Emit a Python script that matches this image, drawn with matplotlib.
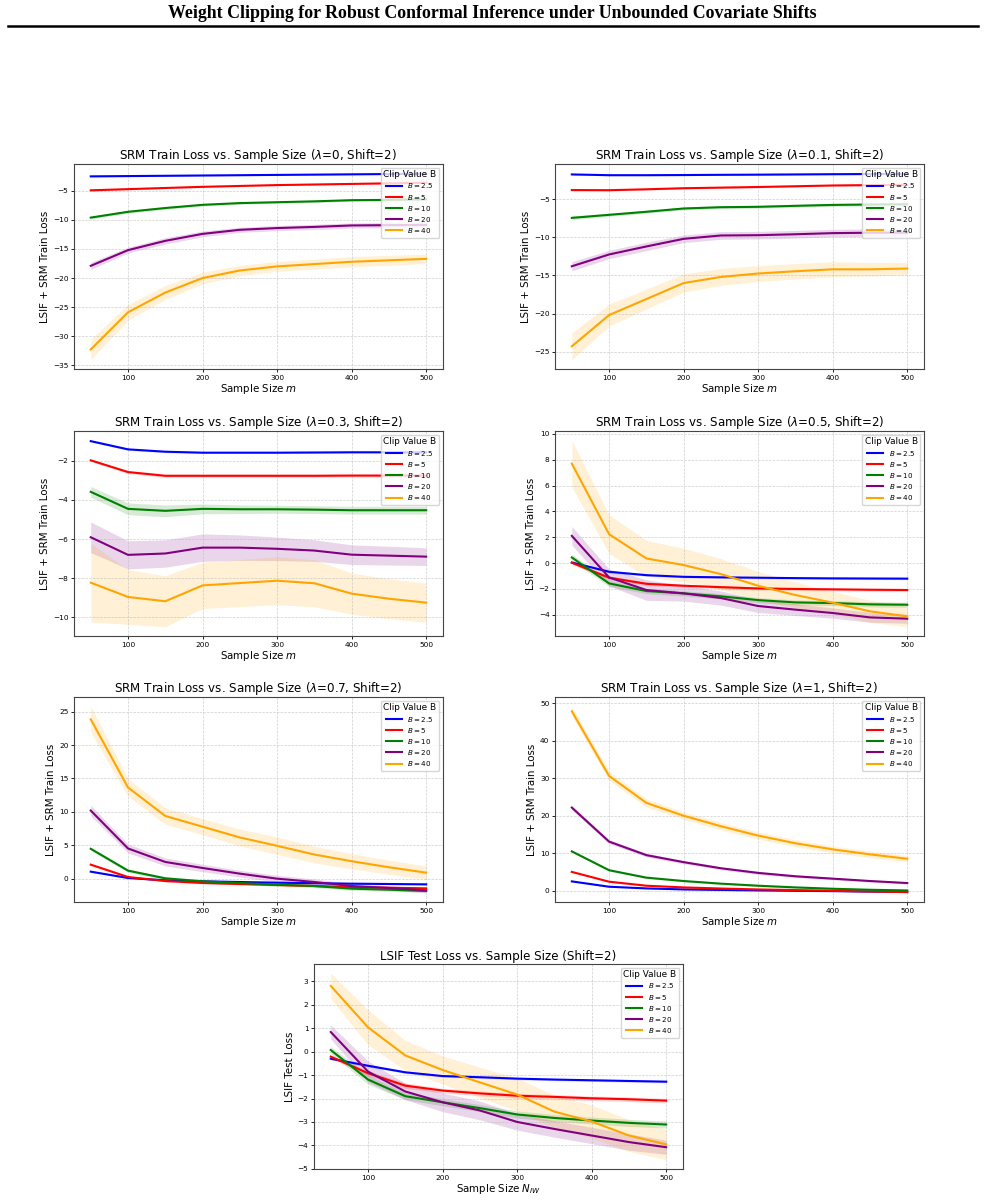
import numpy as np
import matplotlib
matplotlib.use('Agg')
import matplotlib.pyplot as plt
from matplotlib.lines import Line2D

sample_sizes = [50, 100, 150, 200, 250, 300, 350, 400, 450, 500]
clip_labels = ['$B = 2.5$', '$B = 5$', '$B = 10$', '$B = 20$', '$B = 40$']
colors = ['blue', 'red', 'green', 'purple', 'orange']

# mean curves, one row per clip value B
lam0_mean = [
    [-2.5, -2.45, -2.4, -2.35, -2.3, -2.25, -2.2, -2.15, -2.1, -2.05],
    [-4.9, -4.7, -4.5, -4.3, -4.15, -4.0, -3.9, -3.8, -3.7, -3.6],
    [-9.6, -8.6, -7.95, -7.4, -7.1, -6.95, -6.8, -6.6, -6.55, -6.45],
    [-17.9, -15.2, -13.6, -12.4, -11.7, -11.4, -11.2, -10.95, -10.9, -10.85],
    [-32.3, -25.9, -22.5, -20.0, -18.7, -18.0, -17.6, -17.2, -16.95, -16.7]]
lam0_std = [
    [0.12, 0.1, 0.1, 0.08, 0.08, 0.08, 0.08, 0.08, 0.08, 0.08],
    [0.15, 0.12, 0.12, 0.1, 0.1, 0.1, 0.1, 0.1, 0.1, 0.1],
    [0.25, 0.25, 0.25, 0.2, 0.2, 0.2, 0.2, 0.2, 0.2, 0.2],
    [0.6, 0.5, 0.55, 0.5, 0.45, 0.45, 0.45, 0.45, 0.45, 0.45],
    [1.75, 1.35, 1.2, 1.0, 0.9, 0.85, 0.85, 0.9, 0.85, 0.8]]

lam01_mean = [
    [-1.75, -1.85, -1.85, -1.83, -1.8, -1.78, -1.75, -1.72, -1.7, -1.68],
    [-3.8, -3.82, -3.7, -3.56, -3.48, -3.4, -3.3, -3.2, -3.15, -3.12],
    [-7.45, -7.05, -6.65, -6.22, -6.05, -6.0, -5.87, -5.75, -5.7, -5.66],
    [-13.8, -12.25, -11.2, -10.2, -9.76, -9.72, -9.6, -9.45, -9.4, -9.4],
    [-24.3, -20.2, -18.1, -16.0, -15.2, -14.75, -14.45, -14.2, -14.2, -14.1]]
lam01_std = [
    [0.08, 0.08, 0.08, 0.08, 0.08, 0.08, 0.08, 0.08, 0.08, 0.08],
    [0.1, 0.1, 0.1, 0.1, 0.1, 0.1, 0.1, 0.1, 0.1, 0.1],
    [0.25, 0.2, 0.2, 0.2, 0.2, 0.2, 0.2, 0.2, 0.2, 0.2],
    [0.6, 0.55, 0.55, 0.5, 0.5, 0.5, 0.5, 0.5, 0.5, 0.5],
    [1.75, 1.45, 1.3, 1.2, 1.1, 1.05, 1.0, 1.0, 0.9, 0.8]]

lam03_mean = [
    [-1.0, -1.42, -1.54, -1.59, -1.59, -1.59, -1.58, -1.57, -1.57, -1.57],
    [-1.98, -2.58, -2.77, -2.77, -2.77, -2.77, -2.77, -2.76, -2.76, -2.76],
    [-3.59, -4.46, -4.56, -4.46, -4.48, -4.48, -4.5, -4.53, -4.53, -4.53],
    [-5.91, -6.81, -6.74, -6.44, -6.44, -6.5, -6.59, -6.8, -6.85, -6.9],
    [-8.23, -8.96, -9.18, -8.37, -8.25, -8.13, -8.26, -8.79, -9.05, -9.25]]
lam03_std = [
    [0.04, 0.05, 0.05, 0.04, 0.04, 0.04, 0.04, 0.04, 0.04, 0.04],
    [0.06, 0.08, 0.08, 0.08, 0.08, 0.08, 0.08, 0.08, 0.08, 0.08],
    [0.27, 0.3, 0.3, 0.25, 0.22, 0.2, 0.2, 0.2, 0.2, 0.2],
    [0.78, 0.72, 0.7, 0.7, 0.65, 0.6, 0.55, 0.5, 0.48, 0.45],
    [2.0, 1.4, 1.3, 1.18, 1.2, 1.23, 1.2, 1.05, 1.02, 1.0]]

lam05_mean = [
    [0.05, -0.67, -0.93, -1.06, -1.1, -1.13, -1.16, -1.18, -1.19, -1.2],
    [0.03, -1.13, -1.6, -1.75, -1.86, -1.96, -2.0, -2.03, -2.06, -2.08],
    [0.44, -1.57, -2.16, -2.34, -2.57, -2.86, -3.04, -3.09, -3.19, -3.22],
    [2.11, -1.11, -2.08, -2.34, -2.7, -3.32, -3.6, -3.86, -4.2, -4.3],
    [7.7, 2.24, 0.36, -0.15, -0.85, -1.75, -2.47, -3.06, -3.73, -4.12]]
lam05_std = [
    [0.1, 0.1, 0.08, 0.08, 0.08, 0.08, 0.08, 0.08, 0.08, 0.08],
    [0.12, 0.15, 0.15, 0.12, 0.12, 0.12, 0.12, 0.12, 0.12, 0.12],
    [0.25, 0.25, 0.2, 0.2, 0.2, 0.2, 0.2, 0.2, 0.2, 0.2],
    [0.73, 0.65, 0.8, 0.6, 0.55, 0.5, 0.45, 0.4, 0.38, 0.35],
    [1.8, 1.5, 1.4, 1.3, 1.2, 1.1, 1.0, 0.85, 0.85, 0.8]]

lam07_mean = [
    [1.05, 0.1, -0.25, -0.4, -0.5, -0.6, -0.68, -0.75, -0.8, -0.85],
    [2.1, 0.25, -0.35, -0.65, -0.8, -0.95, -1.1, -1.25, -1.35, -1.45],
    [4.47, 1.2, 0.05, -0.4, -0.65, -0.9, -1.1, -1.5, -1.65, -1.85],
    [10.2, 4.52, 2.5, 1.6, 0.75, 0.0, -0.5, -1.1, -1.4, -1.75],
    [23.85, 13.65, 9.39, 7.78, 6.17, 4.92, 3.61, 2.61, 1.71, 0.9]]
lam07_std = [
    [0.1, 0.1, 0.1, 0.1, 0.1, 0.1, 0.1, 0.1, 0.1, 0.1],
    [0.15, 0.15, 0.15, 0.12, 0.12, 0.12, 0.12, 0.12, 0.12, 0.12],
    [0.25, 0.25, 0.25, 0.25, 0.25, 0.25, 0.25, 0.25, 0.25, 0.25],
    [0.8, 0.65, 0.6, 0.55, 0.5, 0.5, 0.45, 0.4, 0.35, 0.3],
    [1.95, 1.3, 1.25, 1.2, 1.25, 1.3, 1.25, 1.15, 1.05, 1.0]]

lam1_mean = [
    [2.5, 1.08, 0.63, 0.36, 0.22, 0.1, 0.0, -0.1, -0.2, -0.27],
    [5.03, 2.42, 1.35, 0.9, 0.6, 0.36, 0.18, 0.0, -0.2, -0.36],
    [10.5, 5.48, 3.5, 2.6, 1.9, 1.35, 0.9, 0.54, 0.27, 0.09],
    [22.17, 13.1, 9.5, 7.63, 6.0, 4.76, 3.86, 3.23, 2.6, 2.06],
    [47.85, 30.6, 23.43, 20.0, 17.2, 14.7, 12.66, 11.04, 9.7, 8.53]]
lam1_std = [
    [0.1, 0.1, 0.1, 0.1, 0.1, 0.1, 0.1, 0.1, 0.1, 0.1],
    [0.15, 0.15, 0.15, 0.15, 0.15, 0.15, 0.15, 0.15, 0.15, 0.15],
    [0.25, 0.25, 0.25, 0.25, 0.25, 0.25, 0.25, 0.25, 0.25, 0.25],
    [0.6, 0.55, 0.5, 0.45, 0.4, 0.4, 0.35, 0.35, 0.3, 0.3],
    [1.3, 1.2, 1.1, 1.0, 1.0, 1.0, 0.95, 0.9, 0.9, 0.85]]

test_mean = [
    [-0.3, -0.6, -0.88, -1.04, -1.09, -1.15, -1.19, -1.22, -1.25, -1.28],
    [-0.21, -0.92, -1.45, -1.66, -1.78, -1.88, -1.93, -1.99, -2.03, -2.09],
    [0.07, -1.19, -1.9, -2.16, -2.41, -2.68, -2.83, -2.94, -3.04, -3.11],
    [0.84, -0.85, -1.7, -2.16, -2.51, -3.0, -3.3, -3.58, -3.86, -4.08],
    [2.81, 1.04, -0.16, -0.78, -1.31, -1.83, -2.56, -2.98, -3.58, -3.96]]
test_std = [
    [0.05, 0.05, 0.05, 0.05, 0.05, 0.05, 0.05, 0.05, 0.05, 0.05],
    [0.08, 0.1, 0.12, 0.1, 0.1, 0.1, 0.1, 0.1, 0.1, 0.1],
    [0.15, 0.2, 0.15, 0.15, 0.15, 0.15, 0.15, 0.15, 0.15, 0.15],
    [0.3, 0.45, 0.35, 0.4, 0.4, 0.35, 0.35, 0.35, 0.35, 0.3],
    [0.54, 0.75, 0.64, 0.6, 0.65, 0.7, 0.7, 0.7, 0.68, 0.65]]

panel_titles = [
    r'SRM Train Loss vs. Sample Size ($\lambda$=0, Shift=2)',
    r'SRM Train Loss vs. Sample Size ($\lambda$=0.1, Shift=2)',
    r'SRM Train Loss vs. Sample Size ($\lambda$=0.3, Shift=2)',
    r'SRM Train Loss vs. Sample Size ($\lambda$=0.5, Shift=2)',
    r'SRM Train Loss vs. Sample Size ($\lambda$=0.7, Shift=2)',
    r'SRM Train Loss vs. Sample Size ($\lambda$=1, Shift=2)',
    'LSIF Test Loss vs. Sample Size (Shift=2)']


def plot_panel(ax, means, stds, title, xlabel, ylabel):
    x = np.array(sample_sizes)
    for m, s, c, lab in zip(means, stds, colors, clip_labels):
        m = np.array(m)
        s = np.array(s)
        ax.plot(x, m, color=c, lw=1.5, label=lab)
        ax.fill_between(x, m - s, m + s, color=c, alpha=0.16, lw=0)
    ax.set_title(title, fontsize=8.6, pad=3)
    ax.set_xlabel(xlabel, fontsize=7.4, labelpad=1)
    ax.set_ylabel(ylabel, fontsize=7.4, labelpad=2)
    ax.tick_params(labelsize=5.3, length=2, width=0.6, pad=2)
    ax.grid(True, linestyle='--', lw=0.5, alpha=0.6)
    for sp in ax.spines.values():
        sp.set_linewidth(0.8)
        sp.set_color('#444444')
    ax.legend(title='Clip Value B', loc='upper right', fontsize=5.1,
              title_fontsize=6.4, borderpad=0.4, labelspacing=0.3,
              handlelength=2.2, framealpha=0.8)


fig = plt.figure(figsize=(9.85, 12.03), dpi=100)

fig.text(0.5, 1 - 13 / 1203, 'Weight Clipping for Robust Conformal Inference under Unbounded Covariate Shifts',
         ha='center', va='center', fontsize=12.9, fontweight='bold', family='Liberation Serif')
fig.add_artist(Line2D([0.008, 0.993], [1 - 26 / 1203, 1 - 26 / 1203], color='black', lw=1.8))

w = 0.3746
h = 0.1704
lefts = [0.0751, 0.5635]
bottoms = [0.6933, 0.4713, 0.2502]

train_means = [lam0_mean, lam01_mean, lam03_mean, lam05_mean, lam07_mean, lam1_mean]
train_stds = [lam0_std, lam01_std, lam03_std, lam05_std, lam07_std, lam1_std]

for i in range(6):
    ax = fig.add_axes([lefts[i % 2], bottoms[i // 2], w, h])
    plot_panel(ax, train_means[i], train_stds[i], panel_titles[i],
               'Sample Size $m$', 'LSIF + SRM Train Loss')

ax = fig.add_axes([0.3188, 0.0283, w, h])
plot_panel(ax, test_mean, test_std, panel_titles[6],
           'Sample Size $N_{IW}$', 'LSIF Test Loss')

fig.savefig('out.png', dpi=100)
